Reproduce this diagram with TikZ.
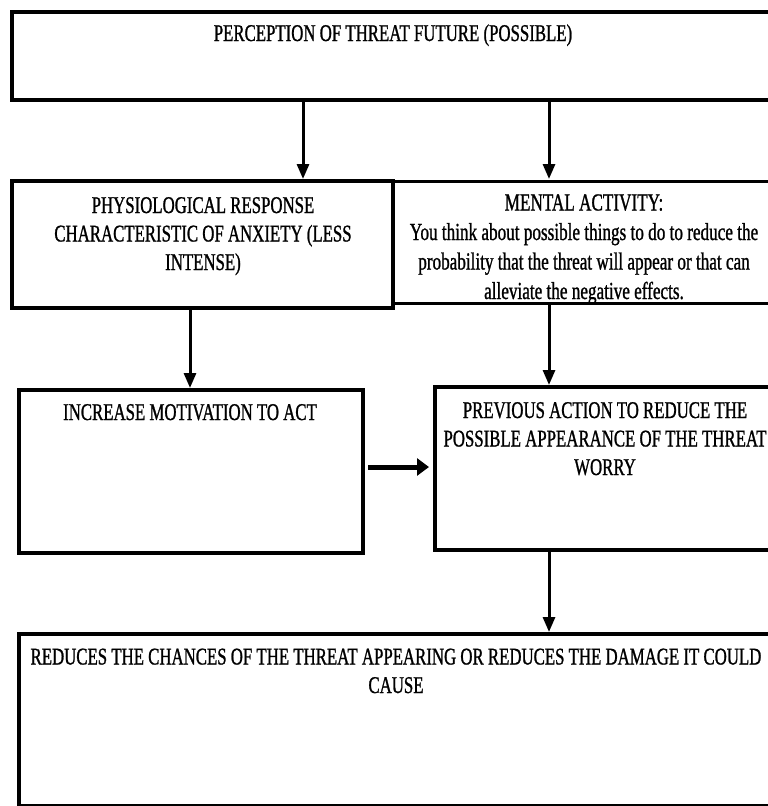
\documentclass[tikz,border=0pt]{standalone}
\usepackage{fontspec}
\setmainfont{Liberation Serif}[FakeStretch=0.70, FakeBold=1]
\usetikzlibrary{arrows.meta}
\tikzset{
  box/.style={draw, line width=4pt, outer sep=0pt, inner sep=0pt, anchor=north west},
  txt/.style={anchor=base, align=center, inner sep=0pt, font=\fontsize{24}{28.5}\selectfont},
  arr/.style={line width=3pt, -{Triangle[length=15pt,width=12pt]}, shorten >=2pt},
  harr/.style={line width=5pt, -{Triangle[length=12pt,width=17pt]}, shorten <=5pt, shorten >=6pt}
}
\begin{document}
\begin{tikzpicture}[x=1pt, y=-1pt]
\useasboundingbox (0,0) rectangle (768,806);
\clip (0,0) rectangle (768,806);

\node[box, minimum width=764pt, minimum height=88pt] (perc) at (12,12) {};
\node[box, minimum width=381pt, minimum height=127pt] (phys) at (12,181) {};
\node[box, line width=3pt, minimum width=381pt, minimum height=122pt] (ment) at (393,181) {};
\node[box, minimum width=344pt, minimum height=163pt] (incr) at (19,390) {};
\node[box, minimum width=341pt, minimum height=163pt] (prev) at (435,387) {};
\node[box, minimum width=757pt, minimum height=172pt] (redu) at (19,634) {};

% text, placed by the baseline of its last line
\node[txt] (perctxt) at (393,41) {PERCEPTION OF THREAT FUTURE (POSSIBLE)};
\node[txt] (phystxt) at (203,270) {PHYSIOLOGICAL RESPONSE\\CHARACTERISTIC OF ANXIETY (LESS\\INTENSE)};
\node[txt, font=\fontsize{24.5}{29.5}\selectfont] (menttxt) at (584,299) {MENTAL ACTIVITY:\\You think about possible things to do to reduce the\\probability that the threat will appear or that can\\alleviate the negative effects.};
\node[txt] (incrtxt) at (190,420) {INCREASE MOTIVATION TO ACT};
\node[txt] (prevtxt) at (605,475) {PREVIOUS ACTION TO REDUCE THE\\POSSIBLE APPEARANCE OF THE THREAT\\WORRY};
\node[txt] (redutxt) at (396,693) {REDUCES THE CHANCES OF THE THREAT APPEARING OR REDUCES THE DAMAGE IT COULD\\CAUSE};

% arrow columns
\coordinate (c1) at (303,0);
\coordinate (c2) at (549,0);
\coordinate (c3) at (190,0);
\coordinate (h) at (0,467);

\draw[arr] (c1 |- perc.south) -- (c1 |- phys.north);
\draw[arr] (c2 |- perc.south) -- (c2 |- ment.north);
\draw[arr] (c3 |- phys.south) -- (c3 |- incr.north);
\draw[arr] (c2 |- ment.south) -- (c2 |- prev.north);
\draw[harr] (h -| incr.east) -- (h -| prev.west);
\draw[arr] (c2 |- prev.south) -- (c2 |- redu.north);
\end{tikzpicture}
\end{document}
